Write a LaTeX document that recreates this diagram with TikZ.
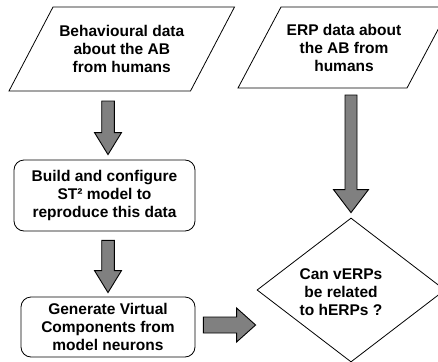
\documentclass[tikz,border=0pt]{standalone}
\usepackage{fontspec}
\setmainfont{Liberation Sans}
\usetikzlibrary{shapes.geometric,calc,positioning}
\definecolor{arrowgray}{HTML}{808080}
\tikzset{
  txt/.style={font=\fontsize{15.5}{18}\selectfont\bfseries, align=center},
  data/.style={rectangle, inner sep=0pt, outer sep=0pt, txt},
  edge/.style={draw, line width=0.8pt, line join=miter},
  proc/.style={rectangle, rounded corners=10pt, draw, line width=0.8pt, inner sep=0pt, txt},
  decision/.style={diamond, draw, line width=0.8pt, inner sep=0pt,
    minimum width=188pt, minimum height=144pt},
  fat/.style n args={3}{draw, fill=arrowgray, line width=0.9pt,
    to path={($(\tikztostart)!#1!90:(\tikztotarget)$)
      -- ($(\tikztotarget)!#3!(\tikztostart)!#1!90:(\tikztotarget)$)
      -- ($(\tikztotarget)!#3!(\tikztostart)!#2!90:(\tikztotarget)$)
      -- (\tikztotarget)
      -- ($(\tikztotarget)!#3!(\tikztostart)!#2!-90:(\tikztotarget)$)
      -- ($(\tikztotarget)!#3!(\tikztostart)!#1!-90:(\tikztotarget)$)
      -- ($(\tikztostart)!#1!-90:(\tikztotarget)$) -- cycle}}
}
\begin{document}
\begin{tikzpicture}[x=1pt,y=-1pt]
  \useasboundingbox (0,0) rectangle (438,361);
  \node[data, minimum width=181.5pt, minimum height=84pt] (beh) at (121.75,49) {Behavioural data\\about the AB\\from humans};
  \node[data, minimum width=169pt, minimum height=81pt] (erp) at (344,47.5) {ERP data about\\the AB from\\humans};
  \draw[edge] ([xshift=-22pt]beh.south west) -- ([xshift=22pt]beh.north west)
    -- ([xshift=22pt]beh.north east) -- ([xshift=-22pt]beh.south east) -- cycle;
  \draw[edge] ([xshift=-21.5pt]erp.south west) -- ([xshift=21.5pt]erp.north west)
    -- ([xshift=21.5pt]erp.north east) -- ([xshift=-21.5pt]erp.south east) -- cycle;
  \node[proc, minimum width=181pt, minimum height=71pt] (bld) at (104.5,195.5) {Build and configure\\ST² model to\\reproduce this data};
  \node[proc, minimum width=174pt, minimum height=60pt] (gen) at (108,327) {Generate Virtual\\Components from\\model neurons};
  \node[decision, label={[txt,xshift=-10pt,yshift=-2pt]center:{Can vERPs\\be related\\to hERPs ?}}] (dec) at (351,290) {};
  \coordinate[yshift=-10pt] (a1s) at (beh.south -| gen.north);
  \coordinate[yshift=5pt] (a1e) at (bld.north -| gen.north);
  \coordinate[yshift=-9pt] (a2s) at (bld.south -| gen.north);
  \coordinate[yshift=4pt] (a2e) at (gen.north);
  \coordinate[xshift=8pt,yshift=2pt] (a3s) at (gen.east);
  \coordinate[xshift=-1pt] (a3e) at (dec.west |- a3s);
  \coordinate[yshift=-7pt] (a4s) at (erp.south -| dec.north);
  \coordinate[yshift=5pt] (a4e) at (dec.north);
  \draw[fat={6.3pt}{13.5pt}{22pt}] (a1s) to (a1e);
  \draw[fat={6.3pt}{13.5pt}{22pt}] (a2s) to (a2e);
  \draw[fat={8pt}{17pt}{19pt}] (a3s) to (a3e);
  \draw[fat={6pt}{17.5pt}{23pt}] (a4s) to (a4e);
\end{tikzpicture}
\end{document}
